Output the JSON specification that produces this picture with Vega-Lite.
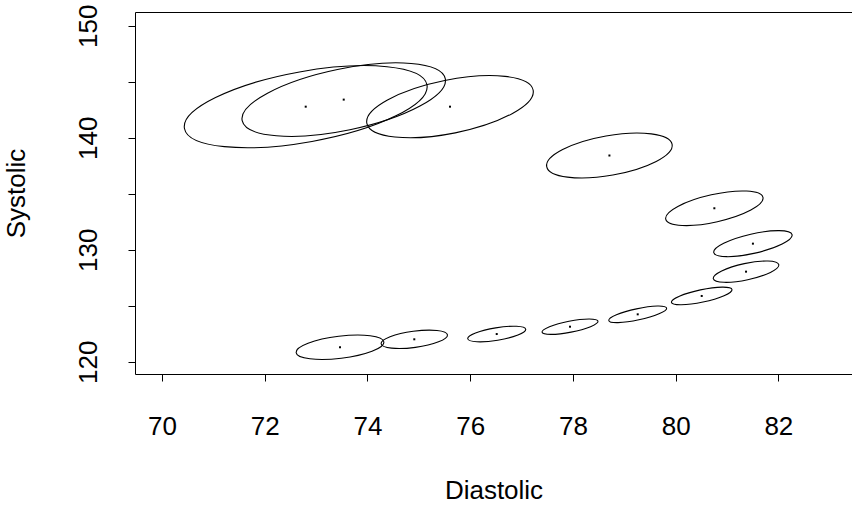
{
  "$schema": "https://vega.github.io/schema/vega-lite/v6.json",
  "width": 717,
  "height": 362,
  "autosize": {"type": "none"},
  "padding": {"left": 135, "top": 12, "right": 0, "bottom": 131},
  "background": "white",
  "config": {
    "view": {"stroke": null},
    "font": "Liberation Sans",
    "axis": {
      "grid": false,
      "domainColor": "black",
      "domainWidth": 1,
      "tickColor": "black",
      "tickWidth": 1,
      "tickSize": 7,
      "labelFont": "Liberation Sans",
      "labelFontSize": 26,
      "labelColor": "black",
      "labelFlush": false,
      "labelOverlap": false,
      "titleFont": "Liberation Sans",
      "titleFontSize": 26,
      "titleFontWeight": "normal",
      "titleColor": "black"
    }
  },
  "data": {
    "values": [
      {"id": "e01", "cx": 72.798, "cy": 142.77, "major": 2.399, "tilt": 10.2},
      {"id": "e02", "cx": 73.538, "cy": 143.40, "major": 2.019, "tilt": 11.7},
      {"id": "e03", "cx": 75.607, "cy": 142.77, "major": 1.651, "tilt": 11.35},
      {"id": "e04", "cx": 78.711, "cy": 138.41, "major": 1.240, "tilt": 10.0},
      {"id": "e05", "cx": 80.754, "cy": 133.70, "major": 0.970, "tilt": 12.6},
      {"id": "e06", "cx": 81.505, "cy": 130.54, "major": 0.782, "tilt": 12.85},
      {"id": "e07", "cx": 81.371, "cy": 128.04, "major": 0.652, "tilt": 12.1},
      {"id": "e08", "cx": 80.508, "cy": 125.87, "major": 0.603, "tilt": 12.05},
      {"id": "e09", "cx": 79.262, "cy": 124.23, "major": 0.576, "tilt": 12.1},
      {"id": "e10", "cx": 77.944, "cy": 123.125, "major": 0.555, "tilt": 11.1},
      {"id": "e11", "cx": 76.517, "cy": 122.47, "major": 0.572, "tilt": 9.26},
      {"id": "e12", "cx": 74.912, "cy": 122.0, "major": 0.652, "tilt": 7.67},
      {"id": "e13", "cx": 73.466, "cy": 121.29, "major": 0.861, "tilt": 6.9}
    ]
  },
  "resolve": {"axis": {"x": "independent"}},
  "layer": [
    {
      "mark": {"type": "point", "filled": false, "stroke": "black", "strokeWidth": 1.1, "opacity": 1},
      "encoding": {
        "x": {
          "field": "cx", "type": "quantitative",
          "scale": {"domain": [69.4743, 83.434], "nice": false, "zero": false},
          "axis": {
            "orient": "bottom",
            "values": [70, 72, 74, 76, 78, 80, 82],
            "labelBaseline": "alphabetic",
            "labelPadding": 53.5,
            "title": "Diastolic",
            "titleBaseline": "alphabetic",
            "titleAnchor": "middle",
            "titleX": 358.5,
            "titleY": 124.5
          }
        },
        "y": {
          "field": "cy", "type": "quantitative",
          "scale": {"domain": [118.902, 151.223], "nice": false, "zero": false},
          "axis": {
            "values": [120, 125, 130, 135, 140, 145, 150],
            "labelExpr": "datum.value % 10 === 0 ? datum.label : ''",
            "labelAngle": 270,
            "labelAlign": "center",
            "labelBaseline": "alphabetic",
            "labelPadding": 31.8,
            "title": "Systolic",
            "titleAngle": 270,
            "titleAlign": "center",
            "titleBaseline": "alphabetic",
            "titleX": -110.5,
            "titleY": 181
          }
        },
        "shape": {
          "field": "id", "type": "nominal", "legend": null,
          "scale": {
            "domain": ["e01", "e02", "e03", "e04", "e05", "e06", "e07", "e08", "e09", "e10", "e11", "e12", "e13"],
            "range": [
              "M -1 0 C -1 -0.1582 -0.5523 -0.2865 0 -0.2865 C 0.5523 -0.2865 1 -0.1582 1 0 C 1 0.1582 0.5523 0.2865 0 0.2865 C -0.5523 0.2865 -1 0.1582 -1 0 Z",
              "M -1 0 C -1 -0.164 -0.5523 -0.297 0 -0.297 C 0.5523 -0.297 1 -0.164 1 0 C 1 0.164 0.5523 0.297 0 0.297 C -0.5523 0.297 -1 0.164 -1 0 Z",
              "M -1 0 C -1 -0.174 -0.5523 -0.315 0 -0.315 C 0.5523 -0.315 1 -0.174 1 0 C 1 0.174 0.5523 0.315 0 0.315 C -0.5523 0.315 -1 0.174 -1 0 Z",
              "M -1 0 C -1 -0.1723 -0.5523 -0.312 0 -0.312 C 0.5523 -0.312 1 -0.1723 1 0 C 1 0.1723 0.5523 0.312 0 0.312 C -0.5523 0.312 -1 0.1723 -1 0 Z",
              "M -1 0 C -1 -0.153 -0.5523 -0.277 0 -0.277 C 0.5523 -0.277 1 -0.153 1 0 C 1 0.153 0.5523 0.277 0 0.277 C -0.5523 0.277 -1 0.153 -1 0 Z",
              "M -1 0 C -1 -0.1337 -0.5523 -0.242 0 -0.242 C 0.5523 -0.242 1 -0.1337 1 0 C 1 0.1337 0.5523 0.242 0 0.242 C -0.5523 0.242 -1 0.1337 -1 0 Z",
              "M -1 0 C -1 -0.1359 -0.5523 -0.246 0 -0.246 C 0.5523 -0.246 1 -0.1359 1 0 C 1 0.1359 0.5523 0.246 0 0.246 C -0.5523 0.246 -1 0.1359 -1 0 Z",
              "M -1 0 C -1 -0.1105 -0.5523 -0.2 0 -0.2 C 0.5523 -0.2 1 -0.1105 1 0 C 1 0.1105 0.5523 0.2 0 0.2 C -0.5523 0.2 -1 0.1105 -1 0 Z",
              "M -1 0 C -1 -0.1044 -0.5523 -0.189 0 -0.189 C 0.5523 -0.189 1 -0.1044 1 0 C 1 0.1044 0.5523 0.189 0 0.189 C -0.5523 0.189 -1 0.1044 -1 0 Z",
              "M -1 0 C -1 -0.1066 -0.5523 -0.193 0 -0.193 C 0.5523 -0.193 1 -0.1066 1 0 C 1 0.1066 0.5523 0.193 0 0.193 C -0.5523 0.193 -1 0.1066 -1 0 Z",
              "M -1 0 C -1 -0.1182 -0.5523 -0.214 0 -0.214 C 0.5523 -0.214 1 -0.1182 1 0 C 1 0.1182 0.5523 0.214 0 0.214 C -0.5523 0.214 -1 0.1182 -1 0 Z",
              "M -1 0 C -1 -0.1337 -0.5523 -0.242 0 -0.242 C 0.5523 -0.242 1 -0.1337 1 0 C 1 0.1337 0.5523 0.242 0 0.242 C -0.5523 0.242 -1 0.1337 -1 0 Z",
              "M -1 0 C -1 -0.1375 -0.5523 -0.249 0 -0.249 C 0.5523 -0.249 1 -0.1375 1 0 C 1 0.1375 0.5523 0.249 0 0.249 C -0.5523 0.249 -1 0.1375 -1 0 Z"
            ]
          }
        },
        "size": {
          "field": "major", "type": "quantitative", "legend": null,
          "scale": {"type": "pow", "exponent": 2, "domain": [0, 3], "range": [0, 94959]}
        },
        "angle": {
          "field": "tilt", "type": "quantitative",
          "scale": {"domain": [0, 90], "range": [0, -90]}
        }
      }
    },
    {
      "mark": {"type": "point", "shape": "square", "filled": true, "color": "black", "size": 4, "opacity": 1},
      "encoding": {
        "x": {
          "field": "cx", "type": "quantitative",
          "axis": {"orient": "top", "ticks": false, "labels": false, "title": null, "domain": true}
        },
        "y": {"field": "cy", "type": "quantitative"}
      }
    }
  ]
}
